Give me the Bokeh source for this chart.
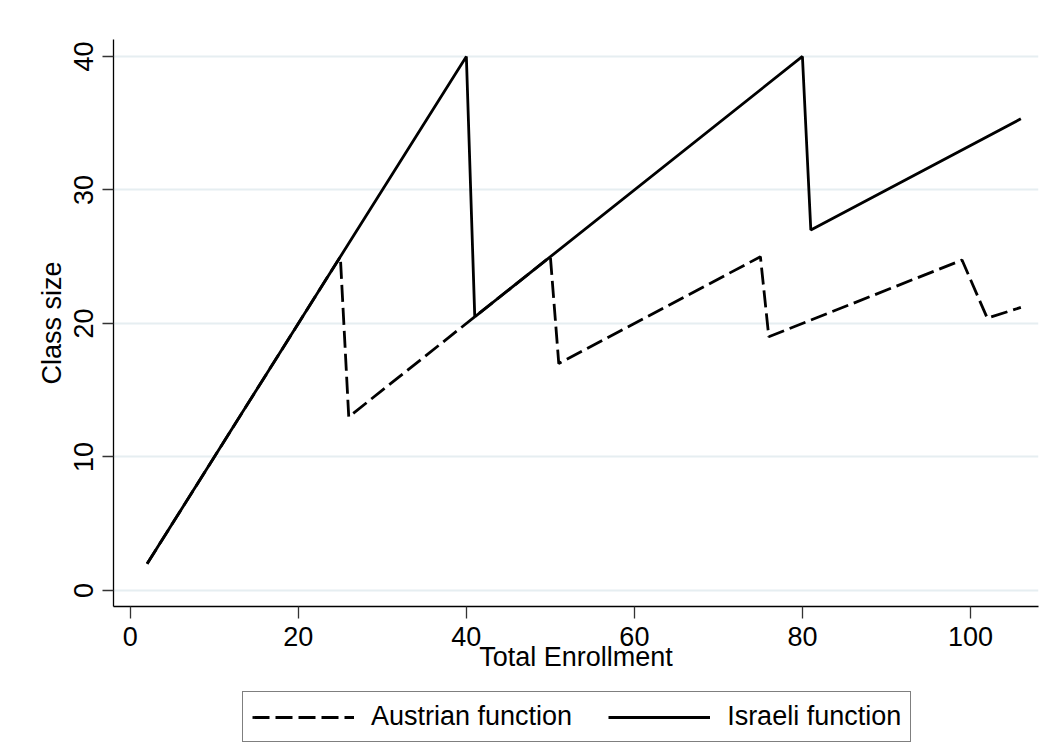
from bokeh.plotting import figure
from bokeh.models import Range1d, Legend, LegendItem, FixedTicker
from bokeh.layouts import column
from bokeh.embed import file_html
from bokeh.resources import INLINE

# Data (break points of the piecewise-linear rules)
austrian_x = [2, 25, 26, 50, 51, 75, 76, 99, 102, 106]
austrian_y = [2, 25, 13, 25, 17, 25, 19, 24.75, 20.4, 21.2]
israeli_x = [2, 40, 41, 80, 81, 106]
israeli_y = [2, 40, 20.5, 40, 27, 35.33]

x_ticks = [0, 20, 40, 60, 80, 100]
y_ticks = [0, 10, 20, 30, 40]
series_labels = ["Austrian function", "Israeli function"]

FONT = "Liberation Sans"
FS = "27px"
DASH = "17 6"
LW = 2.8

p = figure(width=1051, height=680, output_backend="svg", toolbar_location=None,
           x_range=Range1d(-2.0, 108.1), y_range=Range1d(-1.2, 41.27),
           min_border_left=113, min_border_right=13, min_border_top=39,
           min_border_bottom=74)
p.background_fill_color = "white"
p.border_fill_color = "white"
p.outline_line_color = None

p.line(austrian_x, austrian_y, line_color="black", line_width=LW, line_dash=DASH)
p.line(israeli_x, israeli_y, line_color="black", line_width=LW)

# grid
p.xgrid.grid_line_color = None
p.ygrid.grid_line_color = "#e6eef1"
p.ygrid.grid_line_width = 2
p.ygrid.ticker = FixedTicker(ticks=y_ticks)

# axes
p.xaxis.ticker = FixedTicker(ticks=x_ticks)
p.yaxis.ticker = FixedTicker(ticks=y_ticks)
for ax in (p.xaxis[0], p.yaxis[0]):
    ax.axis_line_color = "black"
    ax.axis_line_width = 1.3
    ax.major_tick_line_color = "#333333"
    ax.major_tick_line_width = 1.3
    ax.minor_tick_line_color = None
    ax.major_tick_in = 0
    ax.major_label_text_font = FONT
    ax.major_label_text_font_size = FS
    ax.major_label_text_color = "black"
    ax.axis_label_text_font = FONT
    ax.axis_label_text_font_size = FS
    ax.axis_label_text_font_style = "normal"
    ax.axis_label_text_color = "black"

p.xaxis.axis_label = "Total Enrollment"
p.xaxis.major_tick_out = 12
p.xaxis.major_label_standoff = 8
p.xaxis.axis_label_standoff = -7

p.yaxis.axis_label = "Class size"
p.yaxis.major_tick_out = 11
p.yaxis.major_label_orientation = "vertical"
p.yaxis.major_label_standoff = 9
p.yaxis.axis_label_standoff = 5

# legend strip below the plot (series drawn off-range, only the keys show)
lg = figure(width=1051, height=66, output_backend="svg", toolbar_location=None,
            x_axis_location=None, y_axis_location=None, min_border=0,
            x_range=Range1d(0, 1), y_range=Range1d(0, 1))
lg.outline_line_color = None
lg.background_fill_color = "white"
lg.border_fill_color = "white"
lg.grid.visible = False
k_a = lg.line(austrian_x, austrian_y, line_color="black", line_width=LW, line_dash=DASH)
k_i = lg.line(israeli_x, israeli_y, line_color="black", line_width=LW)

legend = Legend(items=[LegendItem(label=series_labels[0], renderers=[k_a]),
                       LegendItem(label=series_labels[1], renderers=[k_i])],
                orientation="horizontal", location=(129, 4),
                label_text_font=FONT, label_text_font_size=FS,
                label_text_color="black",
                glyph_width=102, glyph_height=26, label_height=26,
                label_standoff=17, spacing=36, padding=9, margin=0,
                border_line_color="black", border_line_width=1.2,
                background_fill_color="white", background_fill_alpha=1.0)
lg.add_layout(legend, "center")

layout = column(p, lg, spacing=0)
open("out.html", "w").write(file_html(layout, INLINE))
